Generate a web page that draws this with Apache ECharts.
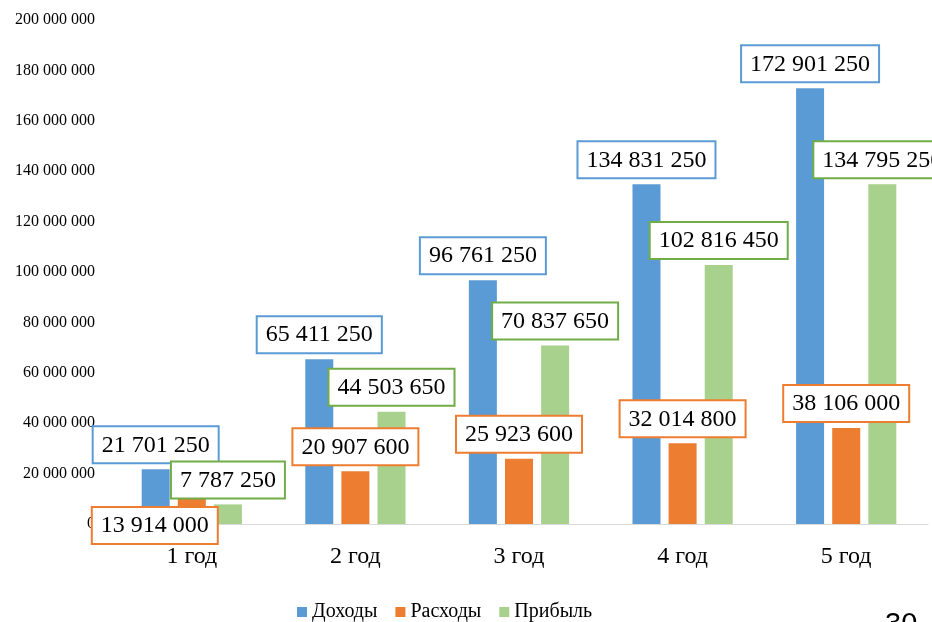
<!DOCTYPE html>
<html>
<head>
<meta charset="utf-8">
<script src="https://cdn.jsdelivr.net/npm/echarts@6/dist/echarts.min.js"></script>
<style>
    html, body { margin: 0; padding: 0; background: #fff; }
    #chart { width: 932px; height: 622px; }
</style>
</head>
<body>
<div id="chart"></div>
<script>
// #region Data
const categories = ["1 год", "2 год", "3 год", "4 год", "5 год"];
const income = [21701250, 65411250, 96761250, 134831250, 172901250];
const expenses = [13914000, 20907600, 25923600, 32014800, 38106000];
const profit = [7787250, 44503650, 70837650, 102816450, 134795250];
const seriesNames = ["Доходы", "Расходы", "Прибыль"];
// #endregion

const FONT = "'Liberation Serif', 'Times New Roman', serif";

const fmt = (v) => String(v).replace(/\B(?=(\d{3})+(?!\d))/g, " ");

const makeLabel = (border) => ({
    show: true,
    position: "top",
    distance: 7,
    formatter: (p) => fmt(p.value),
    fontFamily: FONT,
    fontSize: 24,
    color: "#000",
    backgroundColor: "#fff",
    borderColor: border,
    borderWidth: 2,
    padding: [6, 8, 5, 8]
});

const chart = echarts.init(document.getElementById("chart"), null, { renderer: "canvas" });

// first-year expenses label was moved down in the original
const expensesData = expenses.map((v, i) => i === 0
    ? { value: v, label: { offset: [-37, 61] } }
    : v);

chart.setOption({
    animation: false,
    backgroundColor: "#fff",
    grid: { left: 110, right: 4, top: 20, bottom: 98 },
    legend: {
        data: seriesNames,
        left: 292,
        top: 597,
        icon: "rect",
        itemWidth: 10,
        itemHeight: 10,
        itemGap: 18,
        textStyle: { fontFamily: FONT, fontSize: 20, color: "#000" }
    },
    xAxis: {
        type: "category",
        data: categories,
        axisLine: { lineStyle: { color: "#d9d9d9", width: 1 } },
        axisTick: { show: false },
        axisLabel: { fontFamily: FONT, fontSize: 24, color: "#000", margin: 21 }
    },
    yAxis: {
        type: "value",
        min: 0,
        max: 200000000,
        interval: 20000000,
        splitLine: { show: false },
        axisLine: { show: false },
        axisTick: { show: false },
        axisLabel: {
            fontFamily: FONT, fontSize: 16, color: "#000", margin: 15,
            formatter: (v) => fmt(v)
        }
    },
    series: [
        {
            name: seriesNames[0], type: "bar", data: income,
            barWidth: 28, barGap: "29%",
            itemStyle: { color: "#5b9bd5" },
            label: makeLabel("#5b9bd5")
        },
        {
            name: seriesNames[1], type: "bar", data: expensesData,
            barWidth: 28, barGap: "29%",
            itemStyle: { color: "#ed7d31" },
            label: makeLabel("#ed7d31")
        },
        {
            name: seriesNames[2], type: "bar", data: profit,
            barWidth: 28, barGap: "29%",
            itemStyle: { color: "#a9d18e" },
            label: makeLabel("#70ad47")
        }
    ],
    graphic: [
        {
            type: "text", left: 885, top: 610,
            style: { text: "30", fontFamily: "'Liberation Sans', Arial, sans-serif", fontSize: 29, fill: "#000" }
        }
    ]
});
</script>
</body>
</html>
